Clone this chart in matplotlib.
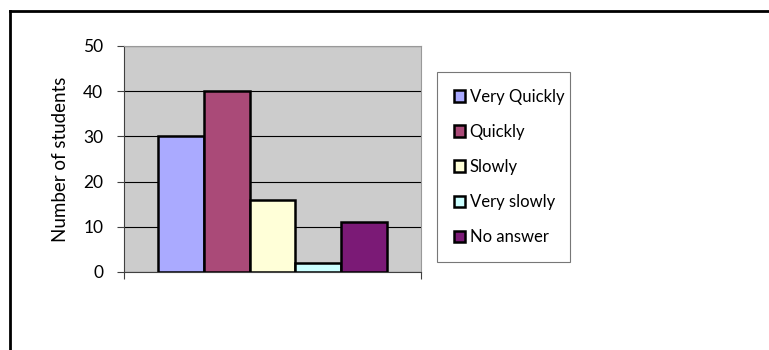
import numpy as np
import matplotlib.pyplot as plt
from matplotlib.lines import Line2D

plt.rcParams['font.family'] = ['Lato', 'DejaVu Sans']

# Survey answers
answers = ["Very Quickly", "Quickly", "Slowly", "Very slowly", "No answer"]
students = [30, 40, 16, 2, 11]
colors = ["#AAAAFF", "#AA4A78", "#FFFFD8", "#CCFFFF", "#7B1A76"]
yticks = [0, 10, 20, 30, 40, 50]

W, H = 769, 350
fig = plt.figure(figsize=(W / 100, H / 100), dpi=100)

# outer frame (left and top edges only)
fig.add_artist(Line2D([9.5 / W, 9.5 / W], [0, 1 - 10.5 / H], color="black",
                      lw=2.0, transform=fig.transFigure))
fig.add_artist(Line2D([9.5 / W, 1], [1 - 10.5 / H, 1 - 10.5 / H], color="black",
                      lw=2.0, transform=fig.transFigure))

ax = fig.add_axes([124 / W, 1 - 272 / H, 297 / W, 226 / H])
ax.set_facecolor("#CCCCCC")

x = np.arange(len(answers))
for i, (name, val, col) in enumerate(zip(answers, students, colors)):
    ax.bar(x[i], val, width=1.0, color=col, edgecolor="black", linewidth=1.8,
           label=name, zorder=3)

margin = 0.742
ax.set_xlim(-0.5 - margin, len(answers) - 0.5 + margin)
ax.set_ylim(0, 50)
ax.set_yticks(yticks)
ax.yaxis.grid(True, color="black", linewidth=0.8, zorder=1)
ax.set_axisbelow(True)

ax.set_xticks([-0.5 - margin, len(answers) - 0.5 + margin])
ax.set_xticklabels([])
ax.tick_params(axis="x", direction="out", length=5, width=0.8, color="#404040")
ax.tick_params(axis="y", direction="out", length=5, width=0.8, color="#404040",
               labelsize=12.5, pad=10)

for side in ["top", "right"]:
    ax.spines[side].set_color("#999999")
    ax.spines[side].set_linewidth(0.8)
ax.spines["left"].set_color("#404040")
ax.spines["bottom"].set_color("#404040")
ax.spines["left"].set_linewidth(0.8)
ax.spines["bottom"].set_linewidth(0.8)

ax.set_ylabel("Number of students", fontsize=13.5, labelpad=10)

leg = ax.legend(loc="upper left", bbox_to_anchor=(437 / W, 1 - 72 / H, 133 / W, 0),
                bbox_transform=fig.transFigure, mode="expand",
                fontsize=12, frameon=True, fancybox=False, borderpad=1.0,
                labelspacing=1.15, handlelength=0.7, handleheight=0.7,
                handletextpad=0.25, borderaxespad=0)
leg.get_frame().set_edgecolor("#555555")
leg.get_frame().set_linewidth(0.8)

fig.savefig("out.png", dpi=100)
